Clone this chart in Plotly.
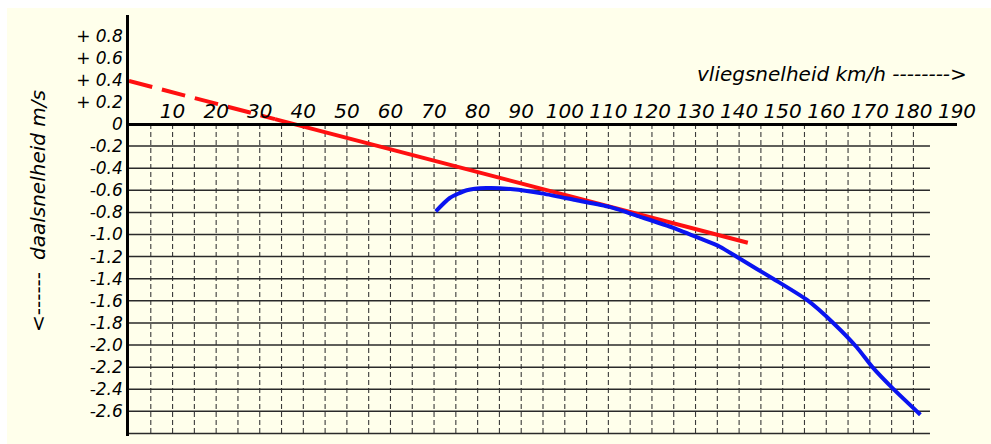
import numpy as np
import plotly.graph_objects as go

# ---- data ----
speed_ticks = [10, 20, 30, 40, 50, 60, 70, 80, 90, 100, 110, 120, 130, 140, 150, 160, 170, 180, 190]
speed_tick_labels = [str(v) for v in speed_ticks]
sink_ticks = [0.8, 0.6, 0.4, 0.2, 0, -0.2, -0.4, -0.6, -0.8, -1.0, -1.2, -1.4, -1.6, -1.8,
              -2.0, -2.2, -2.4, -2.6]
sink_tick_labels = ["+ 0.8", "+ 0.6", "+ 0.4", "+ 0.2", "0", "-0.2", "-0.4", "-0.6", "-0.8",
                    "-1.0", "-1.2", "-1.4", "-1.6", "-1.8", "-2.0", "-2.2", "-2.4", "-2.6"]

polar_speed = [70.4, 73.6, 77.5, 82.0, 88.1, 95.0, 102.7, 110.3, 117.3, 124.9, 131.0, 135.6,
               140.2, 147.8, 155.5, 161.6, 167.0, 170.6, 175.2, 181.6]
polar_sink = [-0.79, -0.67, -0.60, -0.58, -0.59, -0.63, -0.69, -0.75, -0.84, -0.94, -1.035,
              -1.11, -1.22, -1.40, -1.59, -1.80, -2.02, -2.20, -2.39, -2.63]

tangent_dashed_speed = [0, 33.5]
tangent_dashed_sink = [0.39, 0.044]
tangent_speed = [33.5, 142.0]
tangent_sink = [0.044, -1.074]

x_title = "vliegsnelheid km/h -------->"
y_title = "daalsnelheid m/s"
y_arrow = "<------"

# ---- layout constants ----
W, H = 991, 444
L, R, T, B = 129, 34, 15, 8
X_RANGE = [0, 190]
Y_RANGE = [-2.823, 0.986]
CREAM = "#FFFFEB"
FONT = "DejaVu Sans"

pw, ph = W - L - R, H - T - B


def px2paper_x(px):
    return (px - L) / pw


def px2paper_y(py):
    return (H - B - py) / ph


fig = go.Figure()

# grid (only in the negative region)
grid_speeds = np.arange(5, 181, 5)
grid_sinks = np.round(np.arange(-0.2, -2.81, -0.2), 2)
vx, vy = [], []
for s in grid_speeds:
    vx += [s, s, None]
    vy += [0, -2.9, None]
fig.add_trace(go.Scatter(x=vx, y=vy, mode="lines", hoverinfo="skip",
                         line=dict(color="#3a3a3a", width=1.1, dash="5px,3px")))
hx, hy = [], []
for v in grid_sinks:
    hx += [0, 183.8, None]
    hy += [v, v, None]
fig.add_trace(go.Scatter(x=hx, y=hy, mode="lines", hoverinfo="skip",
                         line=dict(color="#2a2a2a", width=1.5)))

# tangent line
fig.add_trace(go.Scatter(x=tangent_dashed_speed, y=tangent_dashed_sink, mode="lines",
                         line=dict(color="#FF1010", width=4, dash="24px,10px")))
fig.add_trace(go.Scatter(x=tangent_speed, y=tangent_sink, mode="lines",
                         line=dict(color="#FF1010", width=4)))
# polar curve
fig.add_trace(go.Scatter(x=polar_speed, y=polar_sink, mode="lines",
                         line=dict(color="#0A14F0", width=4, shape="spline", smoothing=0.6)))

zero_pos = (0 - Y_RANGE[0]) / (Y_RANGE[1] - Y_RANGE[0])

fig.update_layout(
    width=W, height=H,
    margin=dict(l=L, r=R, t=T, b=B),
    paper_bgcolor=CREAM, plot_bgcolor=CREAM,
    showlegend=False,
    xaxis=dict(range=X_RANGE, anchor="free", position=zero_pos, side="top",
               showgrid=False, zeroline=False, showline=True, linecolor="black",
               linewidth=2.5, ticks="", tickvals=speed_ticks, ticktext=speed_tick_labels,
               ticklabelstandoff=-3,
               tickfont=dict(family=FONT, size=20, color="black", style="italic")),
    yaxis=dict(range=Y_RANGE, showgrid=False, zeroline=False, showline=True,
               linecolor="black", linewidth=2.5, ticks="", tickvals=sink_ticks,
               ticktext=sink_tick_labels,
               tickfont=dict(family=FONT, size=17, color="black", style="italic")),
    shapes=[
        dict(type="rect", xref="paper", yref="paper", x0=px2paper_x(-5), x1=px2paper_x(7),
             y0=px2paper_y(H + 5), y1=px2paper_y(-5), fillcolor="white", line_width=0,
             layer="below"),
        dict(type="rect", xref="paper", yref="paper", x0=px2paper_x(-5), x1=px2paper_x(W + 5),
             y0=px2paper_y(8), y1=px2paper_y(-5), fillcolor="white", line_width=0,
             layer="below"),
    ],
    annotations=[
        dict(text=x_title, xref="paper", yref="paper", x=px2paper_x(832), y=px2paper_y(74),
             xanchor="center", yanchor="middle", showarrow=False,
             font=dict(family=FONT, size=20, color="black", style="italic")),
        dict(text=y_title, xref="paper", yref="paper", x=px2paper_x(38), y=px2paper_y(175),
             xanchor="center", yanchor="middle", showarrow=False, textangle=-90,
             font=dict(family=FONT, size=20, color="black", style="italic")),
        dict(text=y_arrow, xref="paper", yref="paper", x=px2paper_x(38), y=px2paper_y(302),
             xanchor="center", yanchor="middle", showarrow=False, textangle=-90,
             font=dict(family=FONT, size=20, color="black")),
    ],
)

fig.write_html("out.html")
